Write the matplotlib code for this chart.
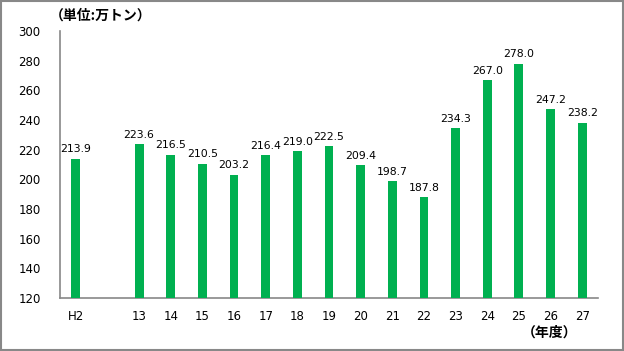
import matplotlib.pyplot as plt

plt.rcParams['font.family'] = ['Noto Sans CJK JP', 'DejaVu Sans']

years = ["H2", "", "13", "14", "15", "16", "17", "18", "19", "20",
         "21", "22", "23", "24", "25", "26", "27"]
values = [213.9, None, 223.6, 216.5, 210.5, 203.2, 216.4, 219.0, 222.5,
          209.4, 198.7, 187.8, 234.3, 267.0, 278.0, 247.2, 238.2]

fig = plt.figure(figsize=(6.24, 3.51), dpi=100)
ax = fig.add_axes([60 / 624, 1 - 298 / 351, 538 / 624, 267 / 351])

x = list(range(len(years)))
for i, v in enumerate(values):
    if v is None:
        continue
    ax.bar(i, v - 120, bottom=120, width=0.28, color="#00B050", zorder=3)
    ax.text(i, v + 3, f"{v:.1f}", ha="center", va="bottom", fontsize=7.8,
            family=["DejaVu Sans"])

ax.set_xlim(-0.5, len(years) - 0.5)
ax.set_ylim(120, 300)
ax.set_yticks(range(120, 301, 20))
ax.set_xticks(x)
ax.set_xticklabels(years)
ax.tick_params(length=0, labelsize=8.5, pad=9)
ax.tick_params(axis="y", pad=14)
for lab in ax.get_xticklabels() + ax.get_yticklabels():
    lab.set_family("DejaVu Sans")

for s in ("top", "right"):
    ax.spines[s].set_visible(False)
for s in ("left", "bottom"):
    ax.spines[s].set_color("#888888")
    ax.spines[s].set_linewidth(1.2)

fig.text(50 / 624, 1 - 16 / 351, "（単位:万トン）", fontsize=10, fontweight="bold",
         ha="left", va="center")
fig.text(522 / 624, 1 - 333 / 351, "（年度）", fontsize=10, fontweight="bold",
         ha="left", va="center")

fig.patches.append(plt.Rectangle((0.001, 0.002), 0.997, 0.996, transform=fig.transFigure,
                                 fill=False, edgecolor="#888888", linewidth=1.5))

fig.savefig("out.png", dpi=100)
